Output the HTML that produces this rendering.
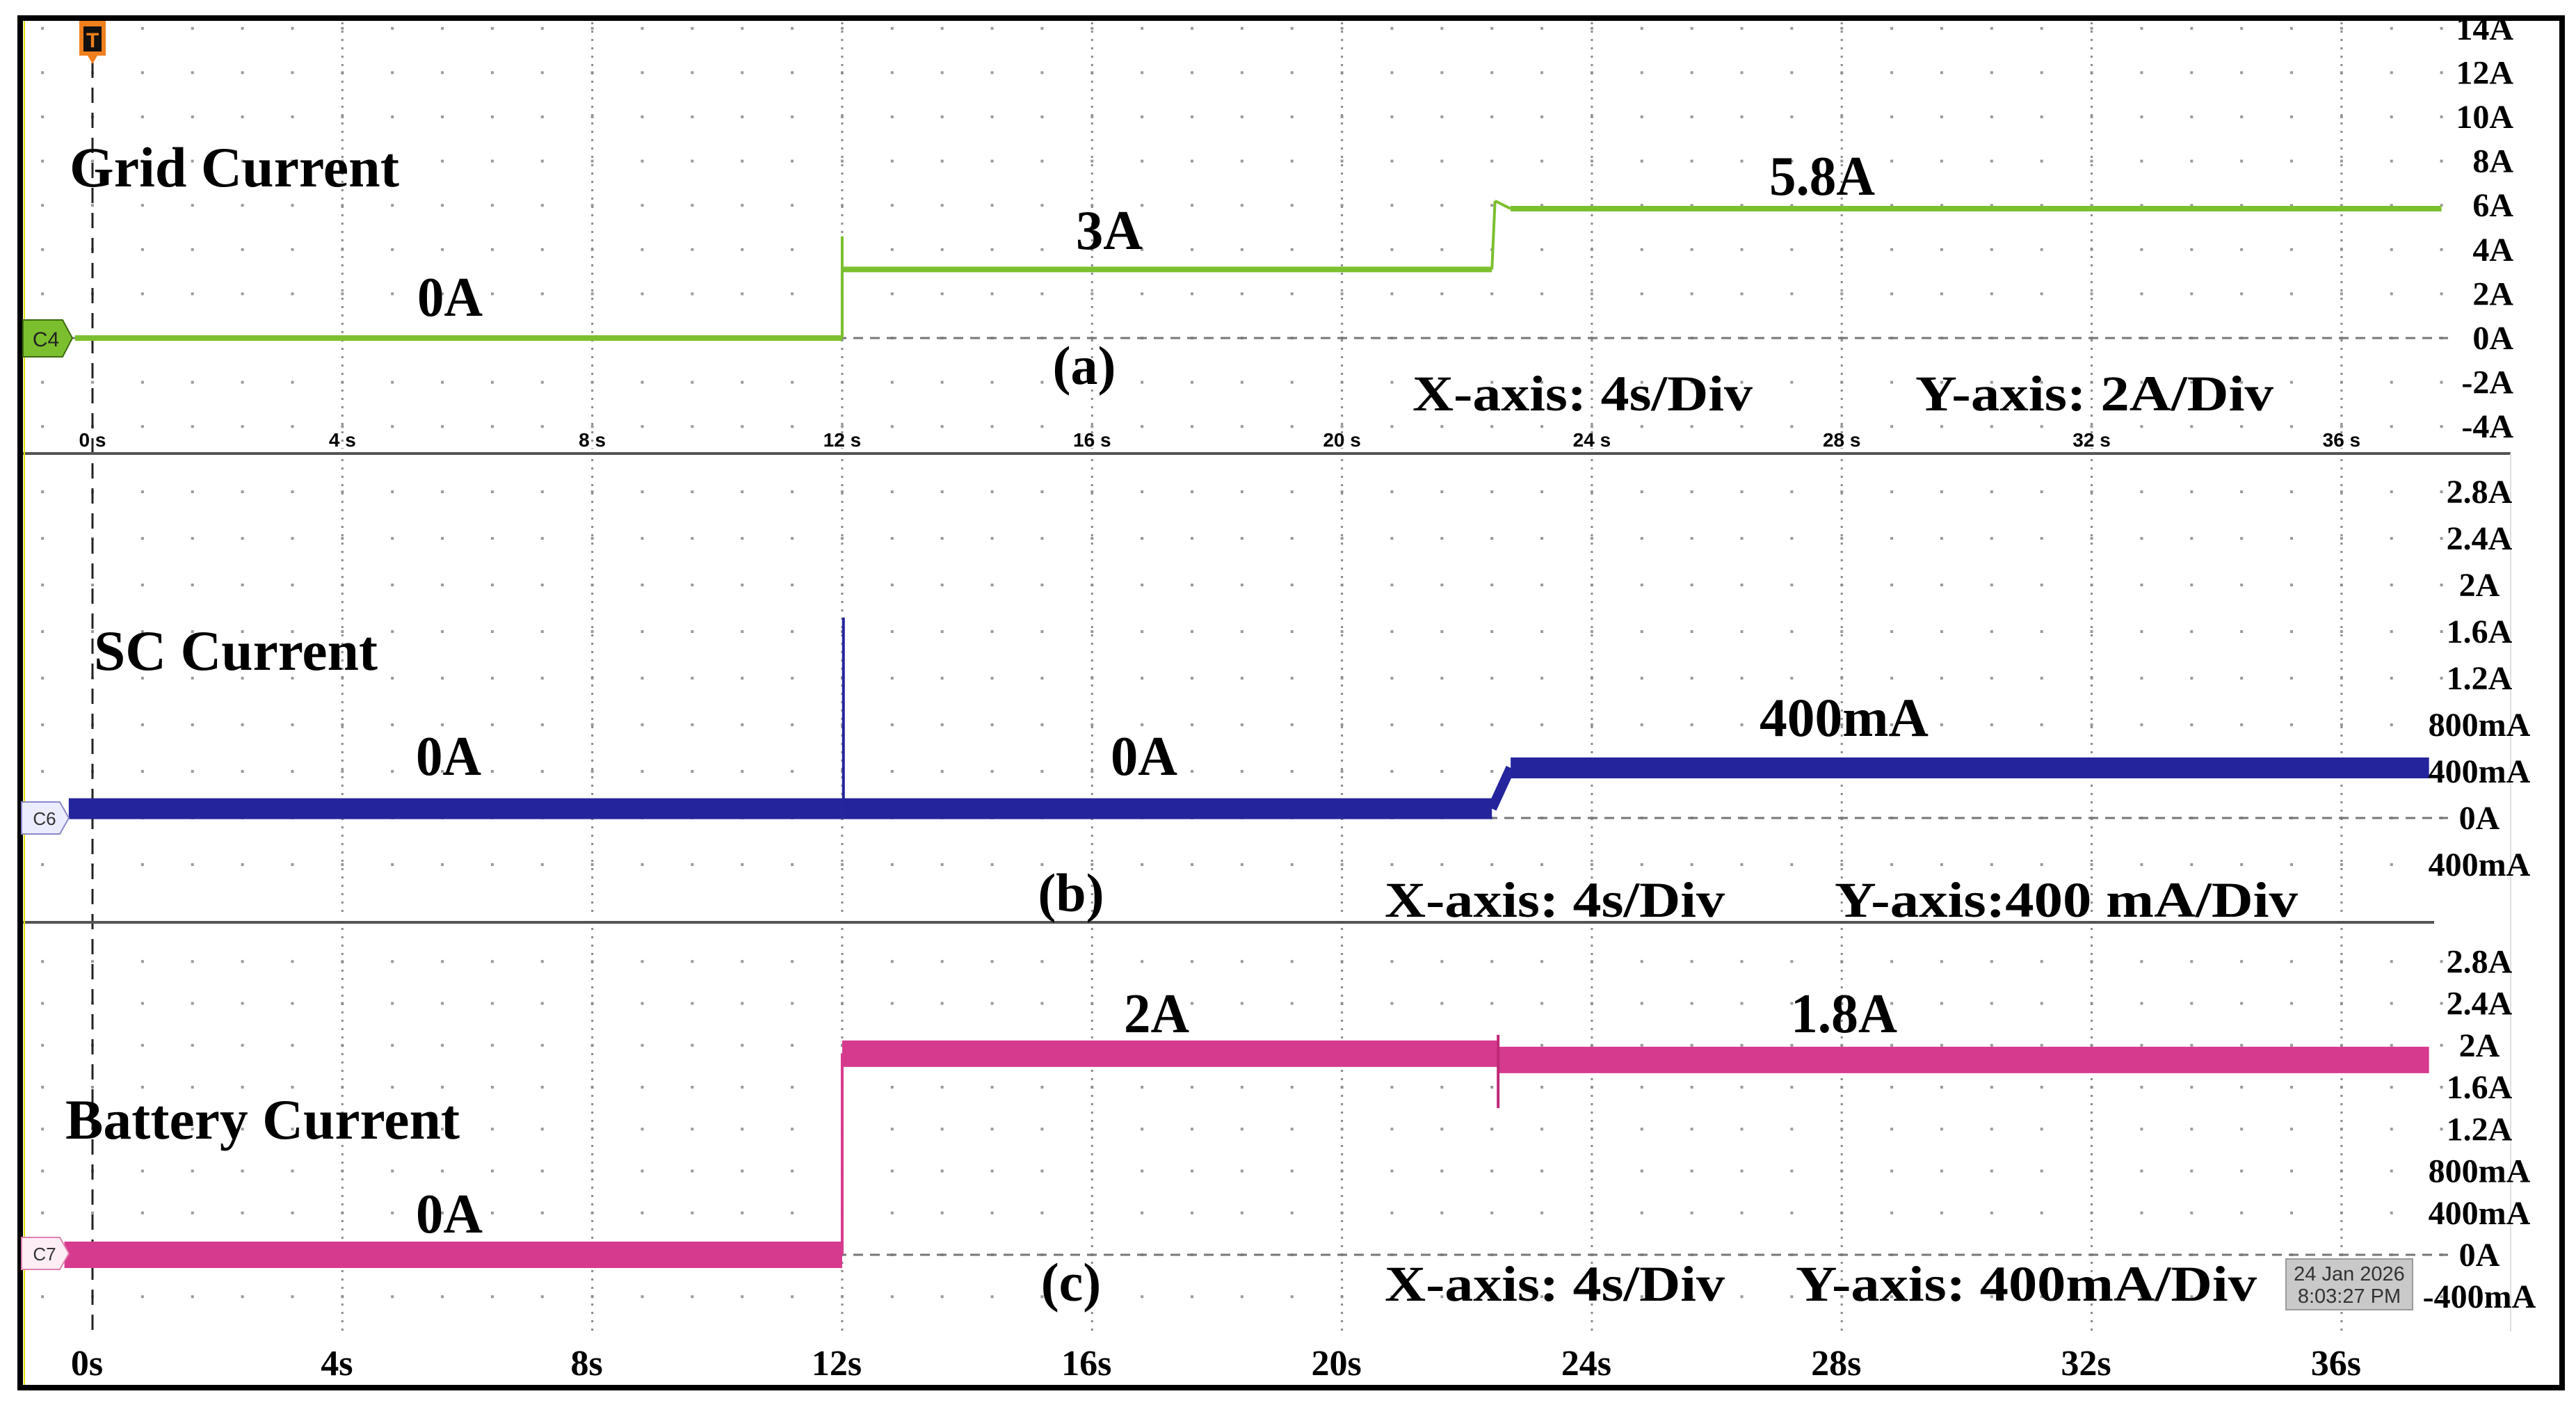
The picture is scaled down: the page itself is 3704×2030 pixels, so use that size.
<!DOCTYPE html>
<html><head><meta charset="utf-8"><style>
html,body{margin:0;padding:0;background:#fff;}
svg{display:block;}
text{font-family:"Liberation Serif",serif;font-weight:bold;fill:#000;}
.sm{font-family:"Liberation Sans",sans-serif;font-weight:bold;}
</style></head><body>
<svg id="chart" xmlns="http://www.w3.org/2000/svg" width="3704" height="2030" viewBox="0 0 3704 2030">
<rect x="0" y="0" width="3704" height="2030" fill="#fff"/>
<g id="grid"></g>
<g id="traces"></g>
<g id="labels"></g>
<rect x="29" y="26" width="3655" height="1969" fill="none" stroke="#000" stroke-width="8"/>
<line x1="35" y1="30" x2="35" y2="1991" stroke="#e8e000" stroke-width="2"/>
</svg>
<script>
// ---- data ----
const xTicks = [0,4,8,12,16,20,24,28,32,36];
const aTicks = [14,12,10,8,6,4,2,0,-2,-4];
const aTickLabels = ["14A","12A","10A","8A","6A","4A","2A","0A","-2A","-4A"];
const bTicks = [2.8,2.4,2.0,1.6,1.2,0.8,0.4,0,-0.4];
const bTickLabels = ["2.8A","2.4A","2A","1.6A","1.2A","800mA","400mA","0A","400mA"];
const cTicks = [2.8,2.4,2.0,1.6,1.2,0.8,0.4,0,-0.4];
const cTickLabels = ["2.8A","2.4A","2A","1.6A","1.2A","800mA","400mA","0A","-400mA"];
const gridT = [-0.28,12.0,12.0,22.4,22.45,22.7,37.6];
const gridV = [0,0,3.1,3.1,6.2,5.85,5.85];
const gridSpikeT = [12.0,12.0];
const gridSpikeV = [0,4.6];
const scT = [-0.38,12.0,22.4,22.7,37.4];
const scV = [0.08,0.08,0.08,0.43,0.43];
const scSpikeT = [12.02,12.02];
const scSpikeV = [0.08,1.72];
const batT = [-0.45,12.0,12.0,22.5,22.5,37.4];
const batV = [0,0,1.92,1.92,1.86,1.86];
const batSpikeT = [22.5,22.5];
const batSpikeV = [1.4,2.1];

const NS="http://www.w3.org/2000/svg";
const X = t => 133 + t*89.83;
const Ya = v => 486 - v*31.8;
const Yb = v => 1176 - v*167.5;
const Yc = v => 1804 - v*150.6;

function mk(tag, attrs, parent, txt){
  const e=document.createElementNS(NS,tag);
  for(const k in attrs) e.setAttribute(k,attrs[k]);
  if(txt!==undefined) e.textContent=txt;
  parent.appendChild(e); return e;
}
const G=document.getElementById('grid'), T=document.getElementById('traces'), L=document.getElementById('labels');

const panels=[
  {y0:32,y1:645,rows:aTicks,Y:Ya},
  {y0:660,y1:1318,rows:bTicks,Y:Yb},
  {y0:1334,y1:1914,rows:cTicks,Y:Yc}
];
panels.forEach((p,pi)=>{
  p.rows.forEach(v=>{
    const y=p.Y(v);
    for(let t=-0.8;t<37.7;t+=0.8){
      const d=mk('rect',{x:X(t)-2,y:y-2,width:4,height:4,fill:'#9a9a9a'},G);
      
      
    }
  });
  xTicks.forEach(t=>{
    if(t===0) return;
    const l=mk('line',{x1:X(t),y1:p.y0,x2:X(t),y2:p.y1,stroke:'#8a8a8a','stroke-width':3,'stroke-dasharray':'3 9'},G);
    
    
  });
  const z=mk('line',{x1:99,y1:p.Y(0),x2:3520,y2:p.Y(0),stroke:'#777','stroke-width':3,'stroke-dasharray':'14 10'},G);
  
  
});
const trig=mk('line',{x1:133,y1:90,x2:133,y2:1914,stroke:'#222','stroke-width':3,'stroke-dasharray':'22 14'},G);


const s1=mk('line',{x1:29,y1:652,x2:3610,y2:652,stroke:'#555','stroke-width':4},G);


const s2=mk('line',{x1:29,y1:1326,x2:3500,y2:1326,stroke:'#555','stroke-width':4},G);


const s3=mk('line',{x1:3610,y1:652,x2:3610,y2:1914,stroke:'#ddd','stroke-width':2},G);



function drawTrace(ts,vs,Y,color,band,thin,name){
  for(let i=0;i<ts.length-1;i++){
    const flat = vs[i]===vs[i+1];
    const l=mk('line',{x1:X(ts[i]),y1:Y(vs[i]),x2:X(ts[i+1]),y2:Y(vs[i+1]),stroke:color,'stroke-width':flat?band:thin,'stroke-linecap':'butt'},T);
    
    
  }
}
drawTrace(gridT,gridV,Ya,'#7cbf2e',8,4,'grid-current-trace');
drawTrace(gridSpikeT,gridSpikeV,Ya,'#7cbf2e',4,4,'grid-current-spike');
drawTrace(scT,scV,Yb,'#24249c',30,14,'sc-current-trace');
drawTrace(scSpikeT,scSpikeV,Yb,'#24249c',4,4,'sc-current-spike');
drawTrace(batT,batV,Yc,'#d63a8e',38,4,'battery-current-trace');
drawTrace(batSpikeT,batSpikeV,Yc,'#c02878',4,4,'battery-current-spike');

aTicks.forEach((v,i)=>{
  const e=mk('text',{x:3614,y:Ya(v)+16,'font-size':48,'text-anchor':'end'},L,aTickLabels[i]);
  
  
});
bTicks.forEach((v,i)=>{
  const e=mk('text',{x:3565,y:Yb(v)+16,'font-size':48,'text-anchor':'middle'},L,bTickLabels[i]);
  
  
});
cTicks.forEach((v,i)=>{
  const e=mk('text',{x:3565,y:Yc(v)+16,'font-size':48,'text-anchor':'middle'},L,cTickLabels[i]);
  
  
});
xTicks.forEach(t=>{
  const e=mk('text',{x:X(t),y:642,'font-size':28,'text-anchor':'middle',fill:'#444',class:'sm'},L,t+' s');
  
  
  const f=mk('text',{x:X(t)-8,y:1977,'font-size':52,'text-anchor':'middle'},L,t+'s');
  
  
});
</script>
<svg style="position:absolute;left:0;top:0" width="3704" height="2030" viewBox="0 0 3704 2030">
<style>text{font-family:"Liberation Serif",serif;font-weight:bold;fill:#000;}</style>
<g>
<polygon points="114,30 152,30 152,80 140,80 133,92 126,80 114,80" fill="#f07f1e"/>
<rect x="120" y="38" width="26" height="36" fill="#111"/>
<text x="133" y="68" font-size="30" text-anchor="middle" style="fill:#f07f1e;font-family:'Liberation Sans',sans-serif">T</text>
</g>
<g>
<polygon points="33,460 90,460 104,486 90,513 33,513" fill="#7cbf2e" stroke="#3d6a10" stroke-width="2"/>
<text x="66" y="498" font-size="30" text-anchor="middle" style="font-family:'Liberation Sans',sans-serif;font-weight:normal;fill:#222">C4</text>
</g>
<g>
<polygon points="31,1153 86,1153 99,1176 86,1199 31,1199" fill="#ececff" stroke="#8888cc" stroke-width="2"/>
<text x="64" y="1186" font-size="26" text-anchor="middle" style="font-family:'Liberation Sans',sans-serif;font-weight:normal;fill:#333">C6</text>
</g>
<g>
<polygon points="31,1779 86,1779 99,1802 86,1825 31,1825" fill="#fdeef5" stroke="#e080b0" stroke-width="2"/>
<text x="64" y="1812" font-size="26" text-anchor="middle" style="font-family:'Liberation Sans',sans-serif;font-weight:normal;fill:#333">C7</text>
</g>

<text x="100" y="268" font-size="82" textLength="474" lengthAdjust="spacingAndGlyphs">Grid Current</text>
<text x="600" y="454" font-size="80" textLength="94" lengthAdjust="spacingAndGlyphs">0A</text>
<text x="1547" y="358" font-size="80" textLength="96" lengthAdjust="spacingAndGlyphs">3A</text>
<text x="2544" y="280" font-size="80" textLength="152" lengthAdjust="spacingAndGlyphs">5.8A</text>
<text x="1559" y="552" font-size="78" text-anchor="middle">(a)</text>
<text x="2031" y="590" font-size="72" textLength="489" lengthAdjust="spacingAndGlyphs">X-axis: 4s/Div</text>
<text x="2754" y="590" font-size="72" textLength="515" lengthAdjust="spacingAndGlyphs">Y-axis: 2A/Div</text>

<text x="135" y="963" font-size="82" textLength="408" lengthAdjust="spacingAndGlyphs">SC Current</text>
<text x="598" y="1114" font-size="80" textLength="94" lengthAdjust="spacingAndGlyphs">0A</text>
<text x="1597" y="1114" font-size="80" textLength="96" lengthAdjust="spacingAndGlyphs">0A</text>
<text x="2530" y="1058" font-size="78" textLength="243" lengthAdjust="spacingAndGlyphs">400mA</text>
<text x="1540" y="1310" font-size="78" text-anchor="middle">(b)</text>
<text x="1991" y="1318" font-size="72" textLength="489" lengthAdjust="spacingAndGlyphs">X-axis: 4s/Div</text>
<text x="2638" y="1318" font-size="72" textLength="666" lengthAdjust="spacingAndGlyphs">Y-axis:400 mA/Div</text>

<text x="94" y="1637" font-size="82" textLength="567" lengthAdjust="spacingAndGlyphs">Battery Current</text>
<text x="598" y="1772" font-size="80" textLength="96" lengthAdjust="spacingAndGlyphs">0A</text>
<text x="1616" y="1484" font-size="80" textLength="94" lengthAdjust="spacingAndGlyphs">2A</text>
<text x="2575" y="1484" font-size="80" textLength="153" lengthAdjust="spacingAndGlyphs">1.8A</text>
<text x="1540" y="1870" font-size="78" text-anchor="middle">(c)</text>
<text x="1991" y="1870" font-size="72" textLength="489" lengthAdjust="spacingAndGlyphs">X-axis: 4s/Div</text>
<text x="2582" y="1870" font-size="72" textLength="663" lengthAdjust="spacingAndGlyphs">Y-axis: 400mA/Div</text>

<g>
<rect x="3287" y="1810" width="182" height="73" fill="#c9c9c9" stroke="#999" stroke-width="2"/>
<text x="3378" y="1841" font-size="29" text-anchor="middle" style="font-family:'Liberation Sans',sans-serif;font-weight:normal;fill:#333">24 Jan 2026</text>
<text x="3378" y="1873" font-size="29" text-anchor="middle" style="font-family:'Liberation Sans',sans-serif;font-weight:normal;fill:#333">8:03:27 PM</text>
</g>
</svg>
</body></html>
